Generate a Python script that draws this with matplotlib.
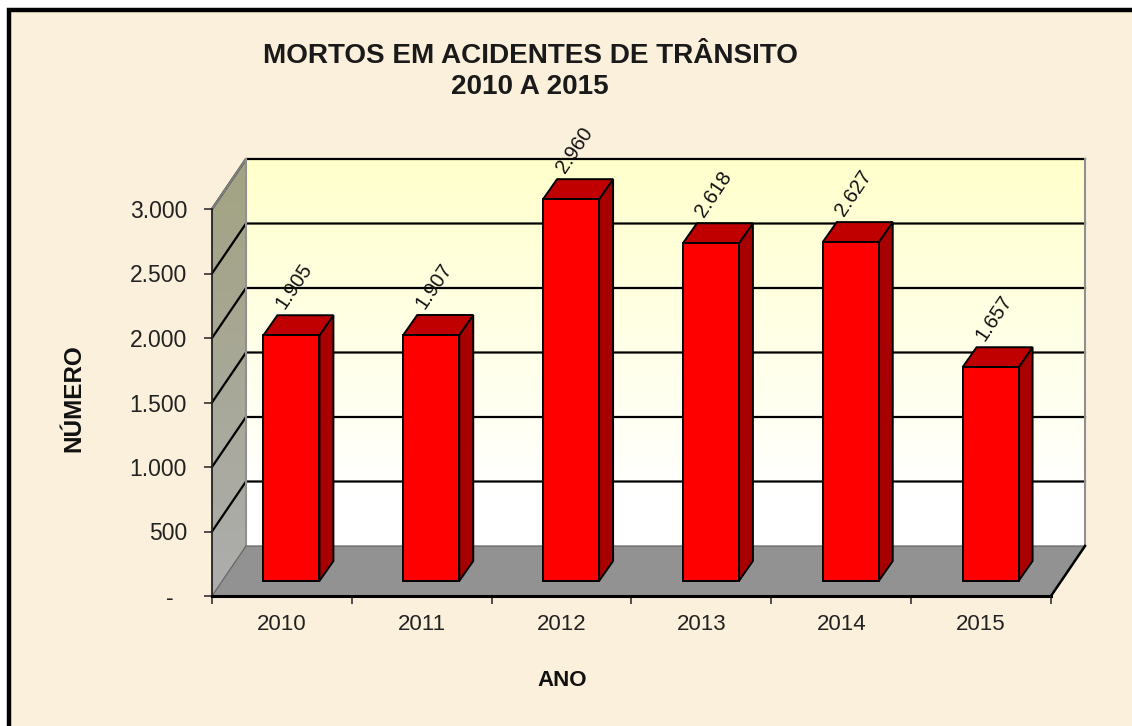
import numpy as np
import matplotlib
matplotlib.use('Agg')
import matplotlib.pyplot as plt
from matplotlib.patches import Polygon, Rectangle

plt.rcParams['font.family'] = ['Liberation Sans', 'DejaVu Sans']

W, H = 1132, 726

anos = ['2010', '2011', '2012', '2013', '2014', '2015']
mortos = [1905, 1907, 2960, 2618, 2627, 1657]
rotulos = ['1.905', '1.907', '2.960', '2.618', '2.627', '1.657']
yticks = [0, 500, 1000, 1500, 2000, 2500, 3000]
yticklabels = ['-', '500', '1.000', '1.500', '2.000', '2.500', '3.000']

fig = plt.figure(figsize=(W / 100, H / 100), dpi=100, facecolor='white')

# parchment panel with black frame, frame runs off the right and bottom
panel = Rectangle((9 / W, -0.05), 1.1, 1 - 10.5 / H + 0.05, transform=fig.transFigure,
                  facecolor='#fbf0dc', edgecolor='black', linewidth=3.2, zorder=-1)
fig.add_artist(panel)

# front plane of the 3d box
ax = fig.add_axes([212 / W, 1 - 596 / H, (1051 - 212) / W, (596 - 209) / H])
ax.patch.set_visible(False)
ax.set_xlim(-0.5, 5.5)
ax.set_ylim(0, 3000)

px = 6 / (1051 - 212)   # category units per pixel
py = 3000 / (596 - 209)  # value units per pixel
dx = 34 * px
dy = 50 * py
x0, x1 = -0.5, 5.5
ytop = 3000


def grad(c0, c1, stretch=1.0, n=128):
    c0 = np.array(matplotlib.colors.to_rgb(c0))
    c1 = np.array(matplotlib.colors.to_rgb(c1))
    t = np.clip(np.linspace(0, 1, n) * stretch, 0, 1)[:, None, None]
    return c0 + (c1 - c0) * t


# back wall
im = ax.imshow(grad('#ffffcc', '#ffffff', 1.15), extent=(x0 + dx, x1 + dx, dy, ytop + dy),
               aspect='auto', zorder=1, clip_on=False)

# left wall, clipped to its parallelogram
left_pts = [(x0, 0), (x0 + dx, dy), (x0 + dx, ytop + dy), (x0, ytop)]
im2 = ax.imshow(grad('#a3a383', '#adadad'), extent=(x0, x0 + dx, 0, ytop + dy),
                aspect='auto', zorder=1)
im2.set_clip_path(Polygon(left_pts, transform=ax.transData))
im2.set_clip_box(fig.bbox)
im2.set_clip_on(True)
ax.set_xlim(-0.5, 5.5)
ax.set_ylim(0, 3000)

# gridlines on both walls
for v in yticks[1:]:
    ax.plot([x0, x0 + dx, x1 + dx], [v, v + dy, v + dy], color='black', lw=1.6, zorder=2, clip_on=False)
ax.plot([x0, x0 + dx], [ytop, ytop + dy], color='#808080', lw=1.6, zorder=2.1, clip_on=False, solid_capstyle='round')
ax.plot([x0 + dx, x0 + dx], [dy, ytop + dy], color='#909090', lw=1.5, zorder=2.1, clip_on=False)
ax.plot([x1 + dx, x1 + dx], [dy, ytop + dy], color='#909090', lw=1.5, zorder=2.1, clip_on=False)

# floor
floor = [(x0, 0), (x1, 0), (x1 + dx, dy), (x0 + dx, dy)]
ax.add_patch(Polygon(floor, facecolor='#929292', edgecolor='none', zorder=3, clip_on=False))
ax.plot([x0, x0 + dx, x1 + dx], [0, dy, dy], color='#666666', lw=0.9, zorder=3.1, clip_on=False)
ax.plot([x1, x1 + dx], [0, dy], color='black', lw=1.8, zorder=3.2, clip_on=False)

# bars, sitting inside the box depth
xs = np.arange(len(mortos)) + 9.5 * px
bw = 56 * px
fy = 15 * py
bx, by = 14 * px, 20 * py
fronts = [fy] * len(mortos)
ax.bar(xs, mortos, width=bw, bottom=fronts, color='#ff0000', edgecolor='black', linewidth=1.4, zorder=5, clip_on=False)
for xc, v, lab in zip(xs, mortos, rotulos):
    l, r = xc - bw / 2, xc + bw / 2
    t = v + fy
    ax.add_patch(Polygon([(r, fy), (r + bx, fy + by), (r + bx, t + by), (r, t)], facecolor='#a60000',
                         edgecolor='black', linewidth=1.4, zorder=4.5, clip_on=False))
    ax.add_patch(Polygon([(l, t), (r, t), (r + bx, t + by), (l + bx, t + by)], facecolor='#c00000',
                         edgecolor='black', linewidth=1.4, zorder=4.6, clip_on=False))
    ax.text(xc + 3 * px, t + 49 * py, lab, rotation=56, rotation_mode='anchor', ha='center', va='center',
            fontsize=14.5, color='#111111', zorder=6, clip_on=False)

# axes
for s in ['top', 'right']:
    ax.spines[s].set_visible(False)
ax.spines['left'].set_linewidth(1.3)
ax.spines['left'].set_color('#222222')
ax.spines['bottom'].set_linewidth(2.2)
ax.spines['bottom'].set_zorder(3.5)
ax.spines['left'].set_zorder(3.5)
ax.set_yticks(yticks)
ax.set_yticklabels(yticklabels)
ax.set_xticks(np.arange(-0.5, 6, 1))
ax.set_xticklabels([])
ax.set_xticks(np.arange(6), labels=anos, minor=True)
ax.tick_params(axis='x', which='major', length=6, width=1.2, color='#333333')
ax.tick_params(axis='x', which='minor', length=0, pad=13, labelsize=16, labelcolor='#222222')
ax.tick_params(axis='y', length=6, width=1.2, color='#333333', pad=12, labelsize=16.5, labelcolor='#222222')
# the zero dash sits further left than the other labels
ax.yaxis.get_major_ticks()[0].set_pad(21.5)

ax.set_xlabel('ANO', fontsize=16, fontweight='bold', color='#111111')
ax.xaxis.set_label_coords((562 - 212) / (1051 - 212), (596 - 681) / (596 - 209), transform=ax.transAxes)
ax.xaxis.label.set_va('center')
ax.set_ylabel('NÚMERO', fontsize=17.5, fontweight='bold', color='#111111')
ax.yaxis.set_label_coords((74 - 212) / (1051 - 212), (596 - 398) / (596 - 209), transform=ax.transAxes)
ax.yaxis.label.set_va('center')

fig.text(530 / W, 1 - 71.5 / H, 'MORTOS EM ACIDENTES DE TRÂNSITO\n2010 A 2015', ha='center', va='center',
         fontsize=20.1, fontweight='bold', color='#1a1a1a', linespacing=1.26)

fig.savefig('out.png', dpi=100, facecolor=fig.get_facecolor())
